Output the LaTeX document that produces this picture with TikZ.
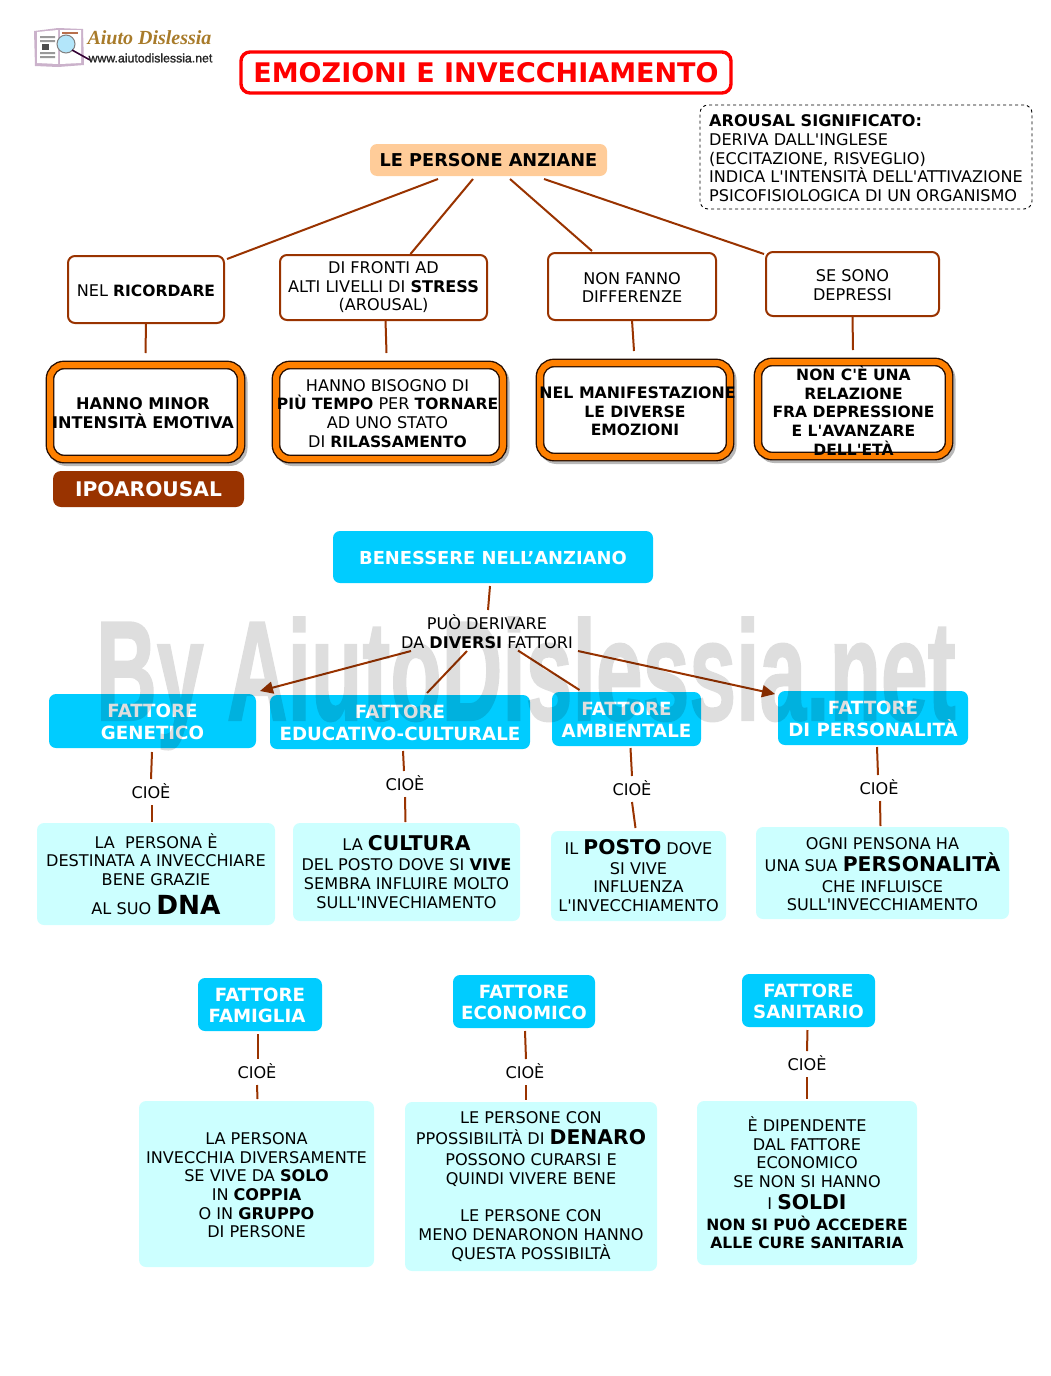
\documentclass[tikz,border=0pt]{standalone}
\usepackage{fontspec}
\setmainfont{DejaVu Sans}[Ligatures=TeXOff]
\newfontfamily\wmfont{Liberation Sans}[FakeBold=1.5]
\newfontfamily\logofont{Liberation Serif}
\usetikzlibrary{calc,shadows,arrows.meta}
\definecolor{brownline}{HTML}{993300}
\definecolor{peach}{HTML}{FFCC99}
\definecolor{orangeb}{HTML}{FF8000}
\definecolor{cyanb}{HTML}{00CCFF}
\definecolor{lightb}{HTML}{CCFFFF}
\definecolor{gold}{HTML}{A87B2A}
\newcommand{\fs}[1]{\fontsize{#1}{#1}\selectfont}
\newcommand{\bb}[1]{{\bfseries\fontsize{15.55}{18.7}\selectfont #1}}
\newcommand{\tp}{\rule{0pt}{16.7pt}}
\newcommand{\hbx}{\rule{0pt}{15.3pt}}
\tikzset{
  x=1pt,y=-1pt,
  base/.style={inner sep=0pt,outer sep=0pt,align=center},
  pos box/.style n args={4}{minimum width={#3-#1},minimum height={#4-#2},at={({(#1+#3)/2},{(#2+#4)/2})}},
  plain/.style={base,font=\fontsize{16.1}{18.7}\selectfont,
     execute at end node={\rule[-2.5pt]{0pt}{2.5pt}}},
  textup/.style={execute at end node={\rule[-7.5pt]{0pt}{7.5pt}}},
  titlebox/.style={base,draw=red,line width=3.4,rounded corners=9pt,text=red,font=\bfseries\fontsize{27}{30}\selectfont},
  notebox/.style={plain,draw=black,dashed,line width=.9,rounded corners=8pt},
  peachbox/.style={base,fill=peach,rounded corners=7pt,font=\bfseries\fontsize{17.7}{20}\selectfont},
  whitebox/.style={plain,draw=brownline,line width=2,rounded corners=7pt},
  framebox/.style={plain,rounded corners=14pt,
     preaction={draw=black,line width=8,opacity=.28,transform canvas={shift={(2.5pt,-3pt)}}},
     preaction={fill=white},
     preaction={draw=black!75!brownline,line width=8.8},
     draw=orangeb,line width=6},
  darkbox/.style={base,fill=brownline,rounded corners=8pt,text=white,font=\bfseries\fontsize{20.2}{24}\selectfont},
  headbox/.style={base,fill=cyanb,rounded corners=7pt,text=white,font=\bfseries\fontsize{18.2}{21.5}\selectfont},
  infobox/.style={plain,fill=lightb,rounded corners=7pt},
  conn/.style={draw=brownline,line width=2},
  arrowconn/.style={conn,-{Triangle[length=13pt,width=12pt]}},
  cioe/.style={base,font=\fontsize{16.1}{18}\selectfont,execute at end node={\rule[-2pt]{0pt}{2pt}}},
}
\begin{document}
\begin{tikzpicture}
\useasboundingbox (0,0) rectangle (1050,1376);
% logo
\fill[black!35!violet!30] (34,31) -- (58,28) -- (83,29) -- (84,65) -- (58,67) -- (35,66) -- cycle;
\fill[white] (37,32) -- (58,30) -- (58,64) -- (37,63) -- cycle;
\fill[white] (60,30) -- (81,30) -- (81,63) -- (60,64) -- cycle;
\fill[black!40] (40,36) rectangle (55,38) (40,40) rectangle (55,42) (40,52) rectangle (55,54) (40,56) rectangle (55,58);
\fill[black!70] (42,44) rectangle (49,50);
\fill[brownline!70] (62,32) rectangle (78,34);
\draw[black!50,fill=cyan!30,line width=1] (66,44) circle (9);
\draw[black!60!violet,line width=1.6] (72,50) -- (90,60);
\node[base,text=gold,font=\logofont\bfseries\itshape\fontsize{20}{20}\selectfont] (logoname) at (149.5,38) {Aiuto Dislessia};
\node[base,font=\wmfont\fontsize{12.3}{14}\selectfont,text=black!85] (logourl) at (150.5,58) {www.aiutodislessia.net};
% title
\node[titlebox,pos box={241}{52}{731}{93}] (title) {EMOZIONI E INVECCHIAMENTO};
% note
\node[notebox,pos box={700}{105}{1032}{209},align=left] (note) {\tp\textbf{AROUSAL SIGNIFICATO:}\\DERIVA DALL'INGLESE\\(ECCITAZIONE, RISVEGLIO)\\INDICA L'INTENSITÀ DELL'ATTIVAZIONE\\PSICOFISIOLOGICA DI UN ORGANISMO};
% top
\node[peachbox,pos box={370}{144}{607}{176}] (anz) {LE PERSONE ANZIANE};
\node[whitebox,pos box={68}{256}{224}{323}] (ric) {\tp NEL \bb{RICORDARE}};
\node[whitebox,textup,pos box={280}{255}{487}{320}] (fro) {\tp DI FRONTI AD\\ALTI LIVELLI DI \textbf{STRESS}\\(AROUSAL)};
\node[whitebox,pos box={548}{253}{716}{320}] (non) {\tp NON FANNO\\DIFFERENZE};
\node[whitebox,pos box={766}{252}{939}{316}] (sec) {\tp SE SONO\\DEPRESSI};
\node[framebox,pos box={50}{365}{241}{459}] (f1) {\tp\textbf{HANNO MINOR}\kern5pt\\\textbf{INTENSITÀ EMOTIVA}\kern5pt};
\node[framebox,pos box={276}{365}{503}{459}] (f2) {\tp HANNO BISOGNO DI\kern4pt\\\bb{PIÙ TEMPO} PER \bb{TORNARE}\kern4pt\\AD UNO STATO\kern4pt\\DI \bb{RILASSAMENTO}\kern4pt};
\node[framebox,pos box={540}{363}{730}{457}] (f3) {\tp\makebox[180pt][c]{\hspace*{5pt}{\bfseries\fontsize{15.8}{18.7}\selectfont NEL MANIFESTAZIONE}}\\\bb{LE DIVERSE}\\\bb{EMOZIONI}};
\node[framebox,inner ysep=-3pt,pos box={758}{362}{949}{456}] (f4) {\rule{0pt}{20pt}\bb{NON C'È UNA}\\\bb{RELAZIONE}\\\bb{FRA DEPRESSIONE}\\\bb{E L'AVANZARE}\\\bb{DELL'ETÀ}};
\node[darkbox,pos box={53}{471}{244}{507}] (ipo) {IPOAROUSAL};
\draw[conn] ($(anz.south west)+(68,3)$) -- ($(ric.north east)+(3,3)$);
\draw[conn] ($(anz.south west)+(103,3)$) -- ($(fro.north)+(27,-1)$);
\draw[conn] ($(anz.south west)+(140,3)$) -- ($(non.north)+(-40,-2)$);
\draw[conn] ($(anz.south west)+(174,3)$) -- ($(sec.north west)+(-2,2)$);
\draw[conn] (ric.south) -- ($(f1.north)+(0,-12)$);
\draw[conn] ($(fro.south)+(2,0)$) -- ($(f2.north)+(-3,-12)$);
\draw[conn] (non.south) -- ($(f3.north)+(-1,-12)$);
\draw[conn] ($(sec.south)+(0,0)$) -- ($(f4.north)+(-.5,-12)$);
% benessere
\node[headbox,font=\bfseries\fontsize{17.9}{21.5}\selectfont,pos box={333}{531}{653}{583}] (ben) {\hbx BENESSERE NELL’ANZIANO};
\node[plain,textup,at={(487,634.5)}] (der) {\tp PUÒ DERIVARE\\DA \textbf{DIVERSI} FATTORI};
\draw[conn] ($(ben.south)+(-3,3)$) -- ($(der.center)+(1,-24.5)$);
\node[headbox,pos box={49}{694}{256}{748}] (h1) {\hbx FATTORE\\GENETICO};
\node[headbox,pos box={270}{695}{530}{749}] (h2) {\hbx FATTORE\\EDUCATIVO-CULTURALE};
\node[headbox,pos box={552}{692}{701}{746}] (h3) {\hbx FATTORE\\AMBIENTALE};
\node[headbox,pos box={778}{691}{968}{745}] (h4) {\hbx FATTORE\\DI PERSONALITÀ};
\draw[arrowconn] ($(der.center)+(-76,16.5)$) -- ($(h1.north east)+(4,-3)$);
\draw[conn] ($(der.center)+(-20,16.5)$) -- ($(h2.north)+(27,-2)$);
\draw[conn] ($(der.center)+(31,16)$) -- ($(h3.north)+(-47,-2)$);
\draw[arrowconn] ($(der.center)+(91,16.5)$) -- ($(h4.north west)+(-3,3)$);
\node[infobox,pos box={37}{823}{275}{925}] (i1) {\tp LA\ \ PERSONA È\\DESTINATA A INVECCHIARE\\BENE GRAZIE\\[8pt]AL SUO {\bfseries\fs{26.3}DNA}};
\node[infobox,pos box={293}{823}{520}{921}] (i2) {\tp LA {\bfseries\fs{20.3}CULTURA}\\[2pt]DEL POSTO DOVE SI \textbf{VIVE}\\SEMBRA INFLUIRE MOLTO\\SULL'INVECHIAMENTO};
\node[infobox,pos box={551}{831}{726}{921}] (i3) {\tp IL {\bfseries\fs{20.3}POSTO} DOVE\\[1pt]SI VIVE\\INFLUENZA\\L'INVECCHIAMENTO};
\node[infobox,pos box={756}{827}{1009}{919}] (i4) {\tp OGNI PENSONA HA\\[2pt]UNA SUA {\bfseries\fs{20.3}PERSONALITÀ}\\[2pt]CHE INFLUISCE\\SULL'INVECCHIAMENTO};
\node[cioe,at={(151,792)}] (c1) {CIOÈ};
\node[cioe,at={(405,784)}] (c2) {CIOÈ};
\node[cioe,at={(632,789)}] (c3) {CIOÈ};
\node[cioe,at={(879,788)}] (c4) {CIOÈ};
\draw[conn] ($(h1.south)+(-.5,4)$) -- ($(c1.center)+(0,-13)$);
\draw[conn] ($(c1.center)+(1,13)$) -- ($(i1.north)+(-4,-1)$);
\draw[conn] ($(h2.south)+(3,2)$) -- ($(c2.center)+(-1,-13)$);
\draw[conn] ($(c2.center)+(0,13)$) -- ($(i2.north)+(-1,-1)$);
\draw[conn] ($(h3.south)+(4,2)$) -- ($(c3.center)+(0,-13)$);
\draw[conn] ($(c3.center)+(0,13)$) -- ($(i3.north)+(-3,-3)$);
\draw[conn] ($(h4.south)+(4,2)$) -- ($(c4.center)+(-1,-13)$);
\draw[conn] ($(c4.center)+(1,13)$) -- ($(i4.north)+(-2,-1)$);
% bottom
\node[headbox,pos box={198}{978}{322}{1031}] (h5) {\hbx FATTORE\\FAMIGLIA\kern6pt};
\node[headbox,pos box={453}{975}{595}{1028}] (h6) {\hbx FATTORE\\ECONOMICO};
\node[headbox,pos box={742}{974}{875}{1027}] (h7) {\hbx FATTORE\\SANITARIO};
\node[cioe,at={(257,1072)}] (c5) {CIOÈ};
\node[cioe,at={(525,1072)}] (c6) {CIOÈ};
\node[cioe,at={(807,1064)}] (c7) {CIOÈ};
\node[infobox,pos box={139}{1101}{374}{1267}] (i5) {\tp LA PERSONA\\INVECCHIA DIVERSAMENTE\\SE VIVE DA \textbf{SOLO}\\IN \textbf{COPPIA}\\O IN \textbf{GRUPPO}\\DI PERSONE};
\node[infobox,textup,pos box={405}{1102}{657}{1271}] (i6) {\tp LE PERSONE CON\\[3pt]PPOSSIBILITÀ DI {\bfseries\fs{20.3}DENARO}\\[2pt]POSSONO CURARSI E\\QUINDI VIVERE BENE\\[18.7pt]LE PERSONE CON\\MENO DENARONON HANNO\\QUESTA POSSIBILTÀ};
\node[infobox,pos box={697}{1101}{917}{1265}] (i7) {\tp È DIPENDENTE\\DAL FATTORE\\ECONOMICO\\SE NON SI HANNO\\[3pt]I {\bfseries\fs{20.3}SOLDI}\\[2pt]\bb{NON SI PUÒ ACCEDERE}\\\bb{ALLE CURE SANITARIA}};
\draw[conn] ($(h5.south)+(-2,3)$) -- ($(c5.center)+(1,-13)$);
\draw[conn] ($(c5.center)+(0,13)$) -- ($(i5.north)+(1,-2)$);
\draw[conn] ($(h6.south)+(1,3)$) -- ($(c6.center)+(1,-13)$);
\draw[conn] ($(c6.center)+(1,13)$) -- ($(i6.north)+(-5,-2)$);
\draw[conn] ($(h7.south)+(-1,3)$) -- ($(c7.center)+(0,-13)$);
\draw[conn] ($(c7.center)+(0,13)$) -- ($(i7.north)+(0,-2)$);
% watermark
\begin{scope}[transparency group,opacity=.13]
\node[base,text=black,xscale=.592,font=\wmfont\bfseries\fontsize{142}{142}\selectfont,anchor=base] (wm) at (526,720) {By AiutoDislessia.net};
\end{scope}
\end{tikzpicture}
\end{document}
